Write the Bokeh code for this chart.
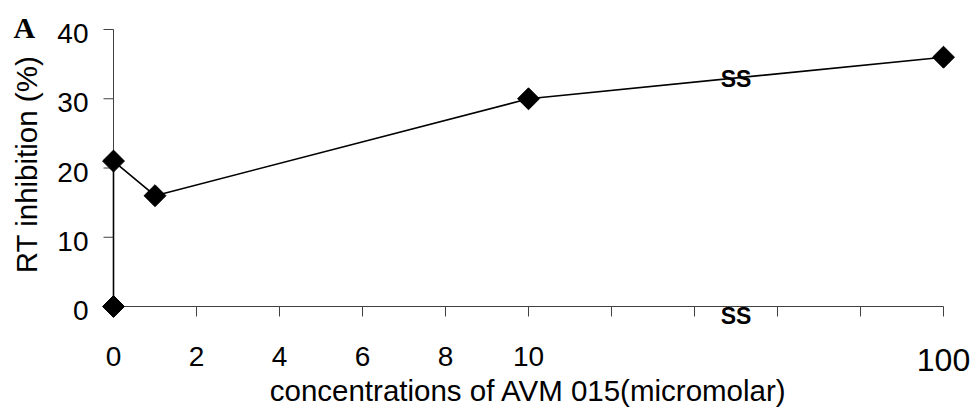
import numpy as np
from bokeh.plotting import figure
from bokeh.models import Range1d
from bokeh.core.properties import value
from bokeh.embed import file_html
from bokeh.resources import INLINE

# ---- data ----
axis_pos = [0, 0, 1, 10, 20]          # position on the (broken) x axis
concentration = [0, 0, 1, 10, 100]    # AVM 015, micromolar
inhibition = [0, 21, 16, 30, 36]      # RT inhibition (%)

x_tick_pos = [0, 2, 4, 6, 8, 10]
x_tick_labels = ["0", "2", "4", "6", "8", "10"]
x_extra_ticks = [12, 14, 16, 18, 20]
far_tick_pos = 20
far_tick_label = "100"
y_ticks = [0, 10, 20, 30, 40]
y_tick_labels = ["0", "10", "20", "30", "40"]
x_title = "concentrations of AVM 015(micromolar)"
y_title = "RT inhibition (%)"
break_pos = 15
break_text = "SS"
panel_letter = "A"

FONT = value("Liberation Sans")
AX = "#404040"

W, H = 972, 417
PX_X, PX_Y = 41.5, 6.925       # pixels per axis unit
X0_PX, Y0_PX = 113, 306        # where the axes cross on the canvas

p = figure(width=W, height=H,
           x_range=Range1d(-X0_PX / PX_X, (W - X0_PX) / PX_X),
           y_range=Range1d(-(H - Y0_PX) / PX_Y, Y0_PX / PX_Y),
           output_backend="svg", toolbar_location=None,
           x_axis_location=None, y_axis_location=None,
           min_border=0)
p.outline_line_color = None
p.grid.visible = False
p.background_fill_color = "white"
p.border_fill_color = "white"

# axis lines and ticks
all_x_ticks = x_tick_pos + x_extra_ticks
y_lo, y_hi = min(y_ticks), max(y_ticks)
x_lo, x_hi = min(all_x_ticks), max(all_x_ticks)
p.line(x=[x_lo, x_lo], y=[y_lo, y_hi], line_color=AX, line_width=1)
p.line(x=[x_lo, x_hi], y=[y_lo, y_lo], line_color=AX, line_width=1)
p.ray(x=[x_lo] * len(y_ticks), y=y_ticks, length=10, length_units="screen",
      angle=np.pi, line_color=AX, line_width=1)
p.ray(x=all_x_ticks, y=[y_lo] * len(all_x_ticks), length=10, length_units="screen",
      angle=-np.pi / 2, line_color=AX, line_width=1)

# tick labels
p.text(x=[x_lo] * len(y_ticks), y=y_ticks, text=y_tick_labels,
       text_align="right", text_baseline="alphabetic", x_offset=-25, y_offset=4,
       text_font=FONT, text_font_size="28px", text_color="black")
p.text(x=x_tick_pos, y=[y_lo] * len(x_tick_pos), text=x_tick_labels,
       text_align="center", text_baseline="alphabetic", y_offset=50,
       text_font=FONT, text_font_size="28px", text_color="black")
p.text(x=[far_tick_pos], y=[y_lo], text=[far_tick_label],
       text_align="center", text_baseline="alphabetic", y_offset=53,
       text_font=FONT, text_font_size="32px", text_color="black")

# axis titles
p.text(x=[(x_lo + x_hi) / 2], y=[y_lo], text=[x_title],
       text_align="center", text_baseline="alphabetic", y_offset=84,
       text_font=FONT, text_font_size="29.5px", text_color="black")
p.text(x=[x_lo], y=[(y_lo + y_hi) / 2], text=[y_title], angle=np.pi / 2,
       text_align="center", text_baseline="alphabetic", x_offset=-87, y_offset=-3.5,
       text_font=FONT, text_font_size="29.5px", text_color="black")

# series
p.line(axis_pos, inhibition, line_color="black", line_width=1.6)
p.scatter(axis_pos, inhibition, marker="square", size=15.5, angle=np.pi / 4,
          fill_color="black", line_color="black")

# axis-break marks
break_on_line = float(np.interp(break_pos, axis_pos[3:], inhibition[3:]))
p.text(x=[break_pos, break_pos], y=[break_on_line, y_lo], text=[break_text, break_text],
       text_align="center", text_baseline="alphabetic", y_offset=[1.5, 9.5],
       text_font=FONT, text_font_size="23px", text_font_style="bold", text_color="black")

# panel letter
p.text(x=[x_lo], y=[y_hi], text=[panel_letter], text_align="left",
       text_baseline="alphabetic", x_offset=-100, y_offset=-2,
       text_font=value("Liberation Serif"), text_font_size="30px",
       text_font_style="bold", text_color="black")

open("out.html", "w").write(file_html(p, INLINE))
